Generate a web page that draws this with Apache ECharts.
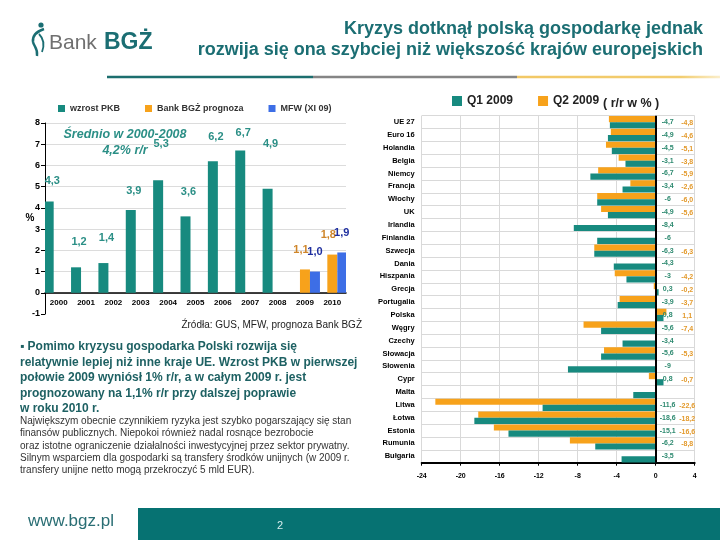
<!DOCTYPE html>
<html><head><meta charset="utf-8">
<script src="https://cdn.jsdelivr.net/npm/echarts@6/dist/echarts.min.js"></script>
<style>html,body{margin:0;padding:0;background:#fff}#c{width:720px;height:540px}</style>
</head><body><div id="c"></div>
<script>
// ---------- DATA ----------
const years = ['2000','2001','2002','2003','2004','2005','2006','2007','2008','2009','2010'];
const pkbGrowth   = [4.3, 1.2, 1.4, 3.9, 5.3, 3.6, 6.2, 6.7, 4.9, null, null];
const bgzForecast = [null, null, null, null, null, null, null, null, null, 1.1, 1.8];
const imfForecast = [null, null, null, null, null, null, null, null, null, 1.0, 1.9];

const countries = ['UE 27','Euro 16','Holandia','Belgia','Niemcy','Francja','Włochy','UK','Irlandia','Finlandia',
  'Szwecja','Dania','Hiszpania','Grecja','Portugalia','Polska','Węgry','Czechy','Słowacja','Słowenia','Cypr',
  'Malta','Litwa','Łotwa','Estonia','Rumunia','Bułgaria'];
const q1_2009 = [-4.7,-4.9,-4.5,-3.1,-6.7,-3.4,-6,-4.9,-8.4,-6,-6.3,-4.3,-3,0.3,-3.9,0.8,-5.6,-3.4,-5.6,-9,0.8,-2.3,-11.6,-18.6,-15.1,-6.2,-3.5];
const q2_2009 = [-4.8,-4.6,-5.1,-3.8,-5.9,-2.6,-6.0,-5.6,null,null,-6.3,null,-4.2,-0.2,-3.7,1.1,-7.4,null,-5.3,null,-0.7,null,-22.6,-18.2,-16.6,-8.8,null];
const unlabeledQ1 = ['Malta'];

// ---------- STYLE / LAYOUT ----------
const FONT = '"Liberation Sans", Arial, sans-serif';
const TEAL = '#178a7f', ORANGE = '#f7a21b', BLUE = '#3d6ee6';
const pkbLabelGap = [15, 20, 20, 14, 31, 19, 19, 12, 39, 0, 0];
const G1 = {left:45, top:123, width:301, height:191};
const yMin1 = -1, yMax1 = 8;
const zeroOffset1 = -G1.height * (0 - yMin1) / (yMax1 - yMin1);
const G2 = {left:421.7, top:115.7, width:273, height:347};
const xMin = -24, xMax = 4;
const zeroX = G2.left + (0 - xMin) / (xMax - xMin) * G2.width;
const colQ1 = zeroX + 12, colQ2 = zeroX + 31.5;
const catH = G2.height / countries.length;
const comma = v => String(v).replace('.', ',');
const comma1 = v => v.toFixed(1).replace('.', ',');

const chart = echarts.init(document.getElementById('c'), null, {renderer:'canvas'});

const option = {
  animation: false,
  textStyle: {fontFamily: FONT},
  legend: [
    {data:['wzrost PKB','Bank BGŻ prognoza','MFW (XI 09)'], left:58, top:104, padding:0, icon:'rect', itemWidth:7, itemHeight:7,
     itemGap:25, selectedMode:false, textStyle:{fontSize:9, fontWeight:'bold', color:'#333', fontFamily:FONT}},
    {data:['Q1 2009','Q2 2009'], left:452, top:95, padding:0, icon:'rect', itemWidth:10, itemHeight:10,
     itemGap:25, selectedMode:false, textStyle:{fontSize:12, fontWeight:'bold', color:'#222', fontFamily:FONT}}
  ],
  grid: [
    Object.assign({containLabel:false}, G1),
    Object.assign({containLabel:false}, G2)
  ],
  xAxis: [
    {gridIndex:0, type:'category', data:years, offset:zeroOffset1,
     axisLine:{onZero:false, lineStyle:{color:'#000', width:1.5}}, axisTick:{show:false},
     axisLabel:{fontSize:8, fontWeight:'bold', color:'#000', margin:6, interval:0}, splitLine:{show:false}},
    {gridIndex:1, type:'value', min:xMin, max:xMax, interval:4,
     axisLine:{show:true, onZero:false, lineStyle:{color:'#000', width:2}},
     axisTick:{show:true, length:3, lineStyle:{color:'#000'}},
     axisLabel:{fontSize:7, fontWeight:'bold', color:'#000', margin:10},
     splitLine:{show:true, lineStyle:{color:'#d9d9d9'}}}
  ],
  yAxis: [
    {gridIndex:0, type:'value', min:yMin1, max:yMax1, interval:1,
     axisLine:{show:true, onZero:false, lineStyle:{color:'#000'}}, axisTick:{show:true, length:4, lineStyle:{color:'#000'}},
     axisLabel:{fontSize:9, fontWeight:'bold', color:'#000', margin:5},
     splitLine:{show:true, showMinLine:false, lineStyle:{color:'#dcdcdc'}}},
    {gridIndex:1, type:'category', data:countries, inverse:true,
     axisLine:{show:false}, axisTick:{show:false},
     axisLabel:{interval:0, fontSize:7.5, fontWeight:'bold', color:'#000', margin:7},
     splitLine:{show:true, interval:0, lineStyle:{color:'#d9d9d9'}}}
  ],
  series: [
    {name:'wzrost PKB', type:'bar', xAxisIndex:0, yAxisIndex:0, barWidth:10, barGap:'0%',
     itemStyle:{color:TEAL},
     data: pkbGrowth.map((v,i) => v == null ? null : {value:v, label:{distance:pkbLabelGap[i]}}),
     label:{show:true, position:'top', offset:[3,0], formatter:p => comma1(p.value), color:'#2b8f86', fontSize:11, fontWeight:'bold'}},
    {name:'Bank BGŻ prognoza', type:'bar', xAxisIndex:0, yAxisIndex:0, barWidth:10, barGap:'0%',
     itemStyle:{color:ORANGE}, data: bgzForecast,
     label:{show:true, position:'top', distance:14, offset:[-4,0], formatter:p => comma1(p.value), color:'#cf862b', fontSize:11, fontWeight:'bold'}},
    {name:'MFW (XI 09)', type:'bar', xAxisIndex:0, yAxisIndex:0, barWidth:10, barGap:'0%',
     itemStyle:{color:BLUE}, data: imfForecast,
     label:{show:true, position:'top', distance:14, formatter:p => comma1(p.value), color:'#1f2f9f', fontSize:11, fontWeight:'bold'}},
    {name:'Q2 2009', type:'bar', xAxisIndex:1, yAxisIndex:1, barCategoryGap:'4%', barGap:'0%',
     itemStyle:{color:ORANGE}, data:q2_2009,
     label:{show:true, formatter:p => comma1(p.value), color:'#e39a2c', fontSize:7, fontWeight:'bold'},
     labelLayout: p => ({x: colQ2, y: G2.top + (p.dataIndex + 0.5) * catH + 1, align:'center', verticalAlign:'middle'})},
    {name:'Q1 2009', type:'bar', xAxisIndex:1, yAxisIndex:1, barCategoryGap:'4%', barGap:'0%',
     itemStyle:{color:TEAL},
     data: q1_2009.map((v,i) => unlabeledQ1.includes(countries[i]) ? {value:v, label:{show:false}} : v),
     label:{show:true, formatter:p => comma(p.value), color:'#2e8a70', fontSize:7, fontWeight:'bold'},
     labelLayout: p => ({x: colQ1, y: G2.top + (p.dataIndex + 0.5) * catH, align:'center', verticalAlign:'middle'}),
     markLine:{silent:true, symbol:'none', label:{show:false}, lineStyle:{color:'#000', width:2, type:'solid'},
       data:[{xAxis:0}]}}
  ],
  graphic: [
    // logo
    {type:'circle', shape:{cx:41, cy:25, r:2.6}, style:{fill:'#1b6e73'}},
    {type:'bezierCurve', shape:{x1:44,y1:29,cpx1:38,cpy1:31,cpx2:32,cpy2:35,x2:33,y2:42}, style:{stroke:'#1b6e73', lineWidth:2.4, fill:null}},
    {type:'bezierCurve', shape:{x1:33,y1:42,cpx1:34,cpy1:47,cpx2:38,cpy2:48,x2:37,y2:56}, style:{stroke:'#1b6e73', lineWidth:2.4, fill:null}},
    {type:'bezierCurve', shape:{x1:39,y1:34,cpx1:43,cpy1:38,cpx2:45,cpy2:44,x2:42,y2:52}, style:{stroke:'#1b6e73', lineWidth:1.8, fill:null}},
    {type:'text', x:49, y:43, style:{text:'Bank', font:'21px ' + FONT, fill:'#707070', verticalAlign:'middle'}},
    {type:'text', x:104, y:43, style:{text:'BGŻ', font:'bold 23px ' + FONT, fill:'#1b6e73', verticalAlign:'middle'}},
    // title
    {type:'text', x:703, y:29, style:{text:'Kryzys dotknął polską gospodarkę jednak', align:'right', verticalAlign:'middle',
      font:'bold 18px ' + FONT, fill:'#1b6e73', shadowColor:'rgba(0,0,0,0.3)', shadowOffsetX:1, shadowOffsetY:1, shadowBlur:1}},
    {type:'text', x:703, y:50, style:{text:'rozwija się ona szybciej niż większość krajów europejskich', align:'right', verticalAlign:'middle',
      font:'bold 18px ' + FONT, fill:'#1b6e73', shadowColor:'rgba(0,0,0,0.3)', shadowOffsetX:1, shadowOffsetY:1, shadowBlur:1}},
    // rule
    {type:'line', shape:{x1:107, y1:77, x2:313, y2:77}, style:{stroke:'#1c6e6e', lineWidth:2.5}},
    {type:'line', shape:{x1:313, y1:77, x2:517, y2:77}, style:{stroke:'#858585', lineWidth:2.5}},
    {type:'line', shape:{x1:517, y1:77, x2:720, y2:77}, style:{lineWidth:2.5,
      stroke:new echarts.graphic.LinearGradient(0,0,1,0,[{offset:0,color:'#f2c865'},{offset:0.8,color:'#f2cd70'},{offset:1,color:'#fbf0d0'}])}},
    // left chart annotations
    {type:'text', x:30, y:218, style:{text:'%', font:'bold 10px ' + FONT, fill:'#000', align:'center', verticalAlign:'middle'}},
    {type:'text', x:125, y:143, style:{text:'Średnio w 2000-2008\n4,2% r/r', font:'italic bold 12.5px ' + FONT, fill:'#2b8f86',
      align:'center', verticalAlign:'middle', lineHeight:16}},
    {type:'text', x:362, y:325, style:{text:'Źródła: GUS, MFW, prognoza Bank BGŻ', font:'10px ' + FONT, fill:'#222', align:'right', verticalAlign:'middle'}},
    // right legend suffix
    {type:'text', x:603, y:104, style:{text:'( r/r w % )', font:'bold 12.5px ' + FONT, fill:'#222', verticalAlign:'middle'}},
    // paragraph
    {type:'text', x:20, y:339, style:{text:'▪ Pomimo kryzysu gospodarka Polski rozwija się\nrelatywnie lepiej niż inne kraje UE. Wzrost PKB w pierwszej\npołowie 2009 wyniósł 1% r/r, a w całym 2009 r. jest\nprognozowany na 1,1% r/r przy dalszej poprawie\nw roku 2010 r.',
      font:'bold 12px ' + FONT, fill:'#1e6163', lineHeight:15.5, verticalAlign:'top',
      shadowColor:'rgba(0,0,0,0.25)', shadowOffsetX:1, shadowOffsetY:1, shadowBlur:1}},
    {type:'text', x:20, y:415, style:{text:'Największym obecnie czynnikiem ryzyka jest szybko pogarszający się stan\nfinansów publicznych. Niepokoi również nadal rosnące bezrobocie\noraz istotne ograniczenie działalności inwestycyjnej przez sektor prywatny.\nSilnym wsparciem dla gospodarki są transfery środków unijnych (w 2009 r.\ntransfery unijne netto mogą przekroczyć 5 mld EUR).',
      font:'10px ' + FONT, fill:'#333', lineHeight:12.3, verticalAlign:'top'}},
    // footer
    {type:'text', x:28, y:521, style:{text:'www.bgz.pl', font:'17px ' + FONT, fill:'#2a6e74', verticalAlign:'middle'}},
    {type:'rect', shape:{x:138, y:508, width:582, height:32}, style:{fill:'#067272'}},
    {type:'text', x:280, y:526, style:{text:'2', font:'11px ' + FONT, fill:'#d8eeee', align:'center', verticalAlign:'middle'}}
  ]
};
chart.setOption(option);
</script></body></html>
